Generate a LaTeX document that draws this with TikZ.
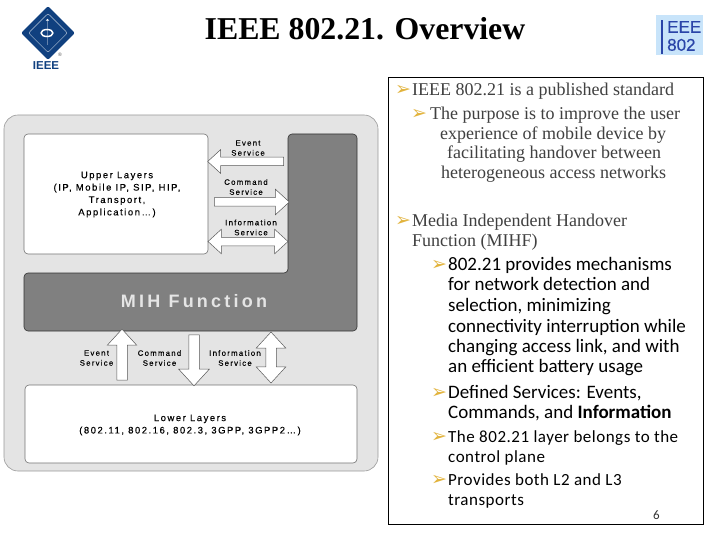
\documentclass[tikz,border=0pt]{standalone}
\usepackage{fontspec}
\usepackage{tikz}
\usetikzlibrary{shapes.arrows,shapes.geometric}
\setmainfont{Liberation Serif}
\newfontfamily\diagfont[LetterSpace=16,FakeBold=0.25]{Liberation Sans}
\newfontfamily\mihfont[LetterSpace=18]{Liberation Sans}
\newfontfamily\plainsans{Liberation Sans}
\newfontfamily\stdfont[FakeBold=0.4]{Liberation Sans}
\newfontfamily\bodyfont{Carlito}
\newfontfamily\smallbodyfont[LetterSpace=3]{Carlito}
\newfontfamily\bulletfont{DejaVu Sans}
\definecolor{panelgray}{HTML}{E4E4E4}
\definecolor{mihgray}{HTML}{808080}
\definecolor{ieeeblue}{HTML}{10407F}
\definecolor{logoblue}{HTML}{2A45A8}
\definecolor{logopale}{HTML}{C8E4FA}
\definecolor{bulletgold}{HTML}{E2B33C}
\definecolor{serifgray}{HTML}{404040}
\tikzset{
	layerbox/.style={rectangle, rounded corners=4pt, draw=black!55, fill=white, line width=0.6pt},
	oneway/.style={single arrow, draw=black!65, fill=white, line width=0.5pt, inner sep=0pt, single arrow tip angle=85, single arrow head indent=0pt},
	twoway/.style={double arrow, draw=black!65, fill=white, line width=0.5pt, inner sep=0pt, double arrow tip angle=85, double arrow head indent=0pt},
	smalltext/.style={align=center, inner sep=0pt, font=\diagfont\fontsize{7.8}{10}\selectfont},
	layertext/.style={align=center, inner sep=0pt, font=\diagfont\fontsize{9.5}{12.4}\selectfont},
	serifline/.style={anchor=base west, inner sep=0pt, text=serifgray, font=\fontsize{18}{18}\selectfont},
	bodyline/.style={anchor=base west, inner sep=0pt, text=black, font=\bodyfont\fontsize{19}{19}\selectfont},
	smallline/.style={anchor=base west, inner sep=0pt, text=black, font=\smallbodyfont\fontsize{17}{17}\selectfont},
	bulletmark/.style={anchor=base west, inner sep=0pt, text=bulletgold, font=\bulletfont\fontsize{19}{19}\selectfont}
}
\begin{document}
\begin{tikzpicture}[x=1pt, y=-1pt]
	\useasboundingbox (0,0) rectangle (720,540);

	% title and logos
	\node[inner sep=0pt, font=\bfseries\fontsize{31.8}{32}\selectfont] (title) at (365,29){IEEE 802.21. Overview};
	\node[diamond, fill=ieeeblue, minimum width=54pt, minimum height=54pt, inner sep=0pt, rounded corners=2pt] (ieeemark) at (48,33){};
	\node[diamond, draw=white!70!ieeeblue, line width=0.5pt, minimum width=39pt, minimum height=39pt, inner sep=0pt, rounded corners=2pt] (ieeeinner) at (48,33){};
	\node[single arrow, fill=white, minimum height=26pt, inner ysep=0.8pt, inner xsep=0pt, single arrow head extend=1.5pt, shape border rotate=90] (ieeestem) at (47.5,32){};
	\draw[white, line width=1.5pt] (41,33) arc (180:0:6 and 3.5) (41,33) arc (180:360:6 and 3.5);
	\node[inner sep=0pt, text=ieeeblue, font=\plainsans\bfseries\fontsize{11.5}{11.5}\selectfont] (ieeetext) at (46,66){IEEE};
	\node[inner sep=0pt, text=black!70, font=\plainsans\fontsize{5}{5}\selectfont] (ieeereg) at (60,54.5){\textregistered};
	\node[rectangle, fill=logopale, minimum width=47pt, minimum height=40pt, inner sep=0pt] (stdmark) at (679.5,35){};
	\fill[logoblue] (660.5,20) rectangle (663,54);
	\node[inner sep=0pt, align=left, anchor=west, text=logoblue, font=\stdfont\fontsize{17}{18}\selectfont] (stdtext) at (667,36){EEE\\802};

	% left figure
	\node[rectangle, rounded corners=14pt, draw=black!40, fill=panelgray, line width=0.6pt, minimum width=374pt, minimum height=356pt] (panel) at (191,293){};
	\fill[mihgray, draw=black!80, line width=0.6pt, rounded corners=4pt] (288,134) -- (357,134) -- (357,331) -- (24,331) -- (24,273) -- (288,273) -- cycle;
	\node[layerbox, minimum width=184pt, minimum height=120pt] (upper) at (116,194){};
	\node[layerbox, minimum width=332pt, minimum height=78pt] (lower) at (191,424){};

	\node[layertext] (uppertext) at (117,194.5){Upper Layers\\(IP, Mobile IP, SIP, HIP,\\Transport,\\Application\dots)};
	\node[inner sep=0pt, text=white!90!black, font=\mihfont\bfseries\fontsize{18}{18}\selectfont] (mihtext) at (194,301.5){MIH Function};
	\node[layertext] (lowertext) at (190,425){Lower Layers\\(802.11, 802.16, 802.3, 3GPP, 3GPP2\dots)};

	% services above the function block
	\node[oneway, minimum height=76pt, inner ysep=4pt, single arrow head extend=7.5pt, shape border rotate=180] (eventup) at (248,161.5){};
	\node[oneway, minimum height=75pt, inner ysep=4pt, single arrow head extend=8.5pt] (commandup) at (249.5,202){};
	\node[twoway, minimum height=80pt, inner ysep=4pt, double arrow head extend=8pt] (infoup) at (248,241.5){};
	\node[smalltext] (eventtext1) at (248,148){Event\\Service};
	\node[smalltext] (commandtext1) at (246,187){Command\\Service};
	\node[smalltext] (infotext1) at (251,227.5){Information\\Service};

	% services below the function block
	\node[oneway, minimum height=51pt, inner xsep=5pt, single arrow head extend=9.5pt, shape border rotate=90] (eventdown) at (122,357.5){};
	\node[oneway, minimum height=51pt, inner xsep=5pt, single arrow head extend=10pt, shape border rotate=270] (commanddown) at (194,357.5){};
	\node[twoway, minimum height=51pt, inner xsep=5pt, double arrow head extend=9.5pt, shape border rotate=90] (infodown) at (271,357.5){};
	\node[smalltext] (eventtext2) at (96.5,358){Event\\Service};
	\node[smalltext] (commandtext2) at (159.5,358){Command\\Service};
	\node[smalltext] (infotext2) at (235,358){Information\\Service};

	% right text box
	\node[rectangle, draw=black, line width=0.9pt, fill=white, minimum width=315pt, minimum height=447pt] (textbox) at (545.5,300.5){};

	\node[bulletmark] (mark1) at (395,96){➢};
	\node[serifline] (line1) at (412,96){IEEE 802.21 is a published standard};
	\node[bulletmark] (mark2) at (411,120){➢};
	\node[serifline] (line2) at (430,120){The purpose is to improve the user};
	\node[serifline] (line3) at (440,140){experience of mobile device by};
	\node[serifline] (line4) at (447,159){facilitating handover between};
	\node[serifline] (line5) at (441,179){heterogeneous access networks};
	\node[bulletmark] (mark3) at (395,226){➢};
	\node[serifline] (line6) at (412,226){Media Independent Handover};
	\node[serifline] (line7) at (412,246){Function (MIHF)};

	\node[bulletmark] (mark4) at (431,270){➢};
	\node[bodyline] (line8) at (448,270){802.21 provides mechanisms};
	\node[bodyline] (line9) at (448,290){for network detection and};
	\node[bodyline] (line10) at (448,311){selection, minimizing};
	\node[bodyline] (line11) at (448,332){connectivity interruption while};
	\node[bodyline] (line12) at (448,352){changing access link, and with};
	\node[bodyline] (line13) at (448,372){an efficient battery usage};
	\node[bulletmark] (mark5) at (431,398){➢};
	\node[bodyline] (line14) at (448,398){Defined Services: Events,};
	\node[bodyline] (line15) at (448,418){Commands, and \textbf{Information}};
	\node[bulletmark] (mark6) at (431,442){➢};
	\node[smallline] (line16) at (448,442){The 802.21 layer belongs to the};
	\node[smallline] (line17) at (448,462){control plane};
	\node[bulletmark] (mark7) at (431,485){➢};
	\node[smallline] (line18) at (448,485){Provides both L2 and L3};
	\node[smallline] (line19) at (448,505){transports};
	\node[anchor=base west, inner sep=0pt, text=black!80, font=\bodyfont\fontsize{13}{13}\selectfont] (pagenum) at (653,519){6};
\end{tikzpicture}
\end{document}
